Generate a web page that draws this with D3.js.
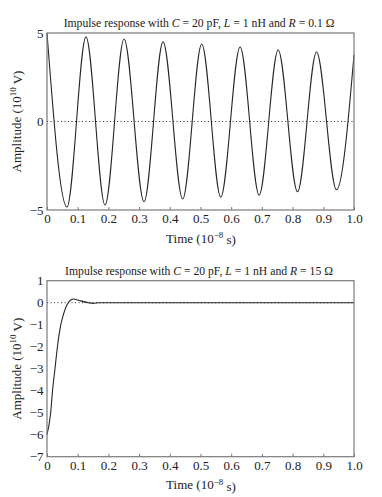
<!DOCTYPE html>
<html><head><meta charset="utf-8">
<script src="https://cdn.jsdelivr.net/npm/d3@7"></script>
<style>
body{margin:0;background:#fff;}
svg text{font-family:"Liberation Serif","Times New Roman",serif;fill:#222;}
</style></head>
<body><svg id="c" width="382" height="497"></svg>
<script>
// ---- data ----
const xTicks = [0,0.1,0.2,0.3,0.4,0.5,0.6,0.7,0.8,0.9,1.0];
const xTickLabels = ["0","0.1","0.2","0.3","0.4","0.5","0.6","0.7","0.8","0.9","1.0"];
const topYTicks = [5,0,-5];
const topYTickLabels = ["5","0","\u22125"];
const botYTicks = [1,0,-1,-2,-3,-4,-5,-6,-7];
const botYTickLabels = ["1","0","\u22121","\u22122","\u22123","\u22124","\u22125","\u22126","\u22127"];
// top panel: R = 0.1 Ohm (extrema)
const topTime = [0,0.065,0.127,0.189,0.251,0.316,0.378,0.442,0.504,0.566,0.629,0.691,0.753,0.816,0.878,0.943,1.0];
const topAmp  = [5,-4.83,4.78,-4.72,4.66,-4.53,4.5,-4.38,4.38,-4.27,4.21,-4.16,4.04,-3.97,3.93,-3.86,3.76];
// bottom panel: R = 15 Ohm
const botTime = [0,0.012,0.018,0.026,0.034,0.045,0.053,0.069,0.086,0.107,0.135,0.15,0.17,1.0];
const botAmp  = [-6.0,-5,-4,-3,-2,-1,-0.56,0,0.17,0.09,0.0,-0.03,0,0];

const svg = d3.select("#c");
const frameCol = "#7a7a7a", lineCol = "#262626";

function panel(opt){
  const g = svg.append("g");
  const x = d3.scaleLinear().domain([0,1]).range([47,354]);
  const y = d3.scaleLinear().domain(opt.yDomain).range([opt.bottom, opt.top]);
  // zero dotted line
  g.append("line").attr("x1",x(0)).attr("x2",x(1)).attr("y1",y(0)).attr("y2",y(0))
    .attr("stroke","#333").attr("stroke-width",1).attr("stroke-dasharray","1,2.5");
  // curve
  const data = opt.time.map((t,i)=>({t, v:opt.amp[i]}));
  g.append("path").datum(data)
    .attr("d", d3.line().x(d=>x(d.t)).y(d=>y(d.v)).curve(opt.curve))
    .attr("fill","none").attr("stroke",lineCol).attr("stroke-width",1.1);
  // frame
  g.append("rect").attr("x",x(0)).attr("y",opt.top).attr("width",x(1)-x(0)).attr("height",opt.bottom-opt.top)
    .attr("fill","none").attr("stroke",frameCol).attr("stroke-width",1.2);
  // x axis
  const ax = g.append("g").attr("transform",`translate(0,${opt.bottom})`)
    .call(d3.axisBottom(x).tickValues(xTicks).tickFormat((d,i)=>xTickLabels[i]).tickSize(-3).tickPadding(4));
  ax.select(".domain").remove();
  ax.selectAll(".tick line").attr("stroke",frameCol);
  ax.selectAll(".tick text").style("font-size","13px").attr("fill","#222");
  // y tick labels
  g.selectAll("text.yt").data(opt.yTicks).enter().append("text")
    .attr("x",43.5).attr("y",d=>y(d)).attr("dy","0.35em").attr("text-anchor","end")
    .style("font-size","13px").text((d,i)=>opt.yLabels[i]);
  // title
  const tt = g.append("text").attr("x",199).attr("y",opt.top-6).attr("text-anchor","middle").style("font-size","11.7px");
  tt.append("tspan").text("Impulse response with ");
  tt.append("tspan").style("font-style","italic").text("C");
  tt.append("tspan").text(" = 20 pF, ");
  tt.append("tspan").style("font-style","italic").text("L");
  tt.append("tspan").text(" = 1 nH and ");
  tt.append("tspan").style("font-style","italic").text("R");
  tt.append("tspan").text(" = " + opt.rText + " \u03A9");
  // x title
  const xt = g.append("text").attr("x",201).attr("y",opt.bottom+32.5).attr("text-anchor","middle").style("font-size","13px");
  xt.append("tspan").text("Time (10");
  xt.append("tspan").attr("dy","-0.45em").style("font-size","9px").text("\u22128");
  xt.append("tspan").attr("dy","0.45em").text(" s)");
  // y title
  const cy = (opt.top+opt.bottom)/2;
  const yt = g.append("text").attr("transform",`translate(20.5,${cy}) rotate(-90)`).attr("text-anchor","middle").style("font-size","13px");
  yt.append("tspan").text("Amplitude (10");
  yt.append("tspan").attr("dy","-0.45em").style("font-size","9px").text("10");
  yt.append("tspan").attr("dy","0.45em").text(" V)");
}

panel({top:33,bottom:210,yDomain:[-5,5],yTicks:topYTicks,yLabels:topYTickLabels,
  time:topTime,amp:topAmp,curve:d3.curveMonotoneX,rText:"0.1"});
panel({top:280.7,bottom:456.7,yDomain:[-7,1],yTicks:botYTicks,yLabels:botYTickLabels,
  time:botTime,amp:botAmp,curve:d3.curveMonotoneX,rText:"15"});
</script></body></html>
